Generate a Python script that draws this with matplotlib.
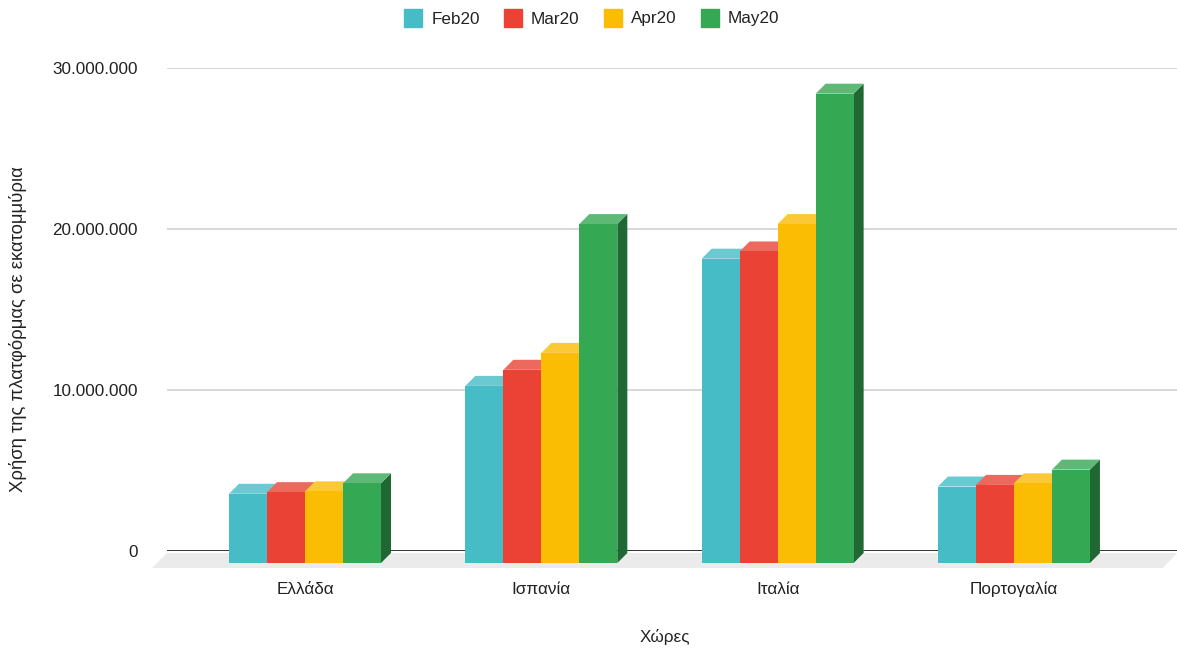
import matplotlib
matplotlib.use("Agg")
import matplotlib.pyplot as plt
from matplotlib.patches import Polygon
from matplotlib.lines import Line2D
from matplotlib.ticker import FuncFormatter
from matplotlib import transforms
import matplotlib.colors as mcolors
import numpy as np

plt.rcParams["font.family"] = ["Liberation Sans", "DejaVu Sans"]

# Data: platform usage per country and month
countries = ["Ελλάδα", "Ισπανία", "Ιταλία", "Πορτογαλία"]
months = ["Feb20", "Mar20", "Apr20", "May20"]
feb20 = [4_300_000, 11_000_000, 18_900_000, 4_750_000]
mar20 = [4_400_000, 12_000_000, 19_350_000, 4_850_000]
apr20 = [4_450_000, 13_050_000, 21_050_000, 4_950_000]
may20 = [4_950_000, 21_050_000, 29_150_000, 5_800_000]
series = [feb20, mar20, apr20, may20]
colors = ["#46bdc6", "#ea4335", "#fbbc04", "#34a853"]

y_ticks = [0, 10_000_000, 20_000_000, 30_000_000]
y_title = "Χρήση της πλατφόρμας σε εκατομμύρια"
x_title = "Χώρες"

FS = 12.3
W, H = 1177, 648
fig = plt.figure(figsize=(W / 100, H / 100), dpi=100)
ax = fig.add_axes([167 / W, (H - 551) / H, 1010 / W, 483 / H])
ax.set_ylim(0, 30_000_000)
ax.set_xlim(-0.584, 3.690)
for s in ax.spines.values():
    s.set_visible(False)
ax.set_facecolor("none")

# pixel -> data unit conversion for the pseudo-3D geometry
xpp = (3.690 + 0.584) / 1010
ypp = 30_000_000 / 483


def lighten(c, f):
    r = np.array(mcolors.to_rgb(c))
    return tuple(r + (1 - r) * f)


def darken(c, f):
    r = np.array(mcolors.to_rgb(c))
    return tuple(r * f)


# gridlines on the back wall
for t in y_ticks[1:]:
    ax.axhline(t, color="#d4d4d4", lw=1.3, zorder=1)
ax.axhline(0, color="#333333", lw=1.4, zorder=1.2)

# floor
fx0, fx1 = ax.get_xlim()
floor = Polygon([(fx0, -2 * ypp), (fx1, -2 * ypp),
                 (fx1 - 14 * xpp, -17 * ypp), (fx0 - 15 * xpp, -17 * ypp)],
                closed=True, facecolor="#ebebeb", edgecolor="none",
                zorder=0.5, clip_on=False)
ax.add_patch(floor)

bw = 38 * xpp
dx, dy = 10 * xpp, 10 * ypp
base = -12 * ypp
z = 3
for i in range(len(countries)):
    for k, (vals, col) in enumerate(zip(series, colors)):
        x0 = i + (k - 2) * bw
        x1 = x0 + bw
        top = base + vals[i]
        front = Polygon([(x0, base), (x1, base), (x1, top), (x0, top)],
                        closed=True, facecolor=col, edgecolor="none",
                        zorder=z, clip_on=False)
        lid = Polygon([(x0, top), (x1, top), (x1 + dx, top + dy), (x0 + dx, top + dy)],
                      closed=True, facecolor=lighten(col, 0.2), edgecolor="none",
                      zorder=z, clip_on=False)
        side = Polygon([(x1, base), (x1 + dx, base + dy), (x1 + dx, top + dy), (x1, top)],
                       closed=True, facecolor=darken(col, 0.62), edgecolor="none",
                       zorder=z, clip_on=False)
        ax.add_patch(side)
        ax.add_patch(lid)
        ax.add_patch(front)
        z += 1

# axes labels and ticks
ax.set_yticks(y_ticks)
ax.yaxis.set_major_formatter(FuncFormatter(lambda v, p: f"{int(v):,}".replace(",", ".")))
ax.tick_params(axis="y", length=0, pad=21, labelsize=FS, labelcolor="#222222")
ax.set_xticks([])

trans = transforms.blended_transform_factory(ax.transData, fig.transFigure)
for i, c in enumerate(countries):
    ax.text(i, (H - 589) / H, c, transform=trans, ha="center", va="center",
            fontsize=FS, color="#222222")

fig.text(665 / W, (H - 637) / H, x_title, ha="center", va="center",
         fontsize=FS, color="#222222")
fig.text(18 / W, (H - 329) / H, y_title, ha="center", va="center",
         rotation=90, fontsize=13.3, color="#222222")

handles = [Line2D([], [], marker="s", linestyle="none", markersize=12.5,
                  markerfacecolor=c, markeredgecolor=c) for c in colors]
fig.legend(handles, months, loc="center", bbox_to_anchor=(592 / W, (H - 19) / H),
           ncol=4, frameon=False, fontsize=FS, handletextpad=0.55,
           columnspacing=1.45, handlelength=1.0, labelcolor="#222222")

fig.savefig("out.png", dpi=100)
